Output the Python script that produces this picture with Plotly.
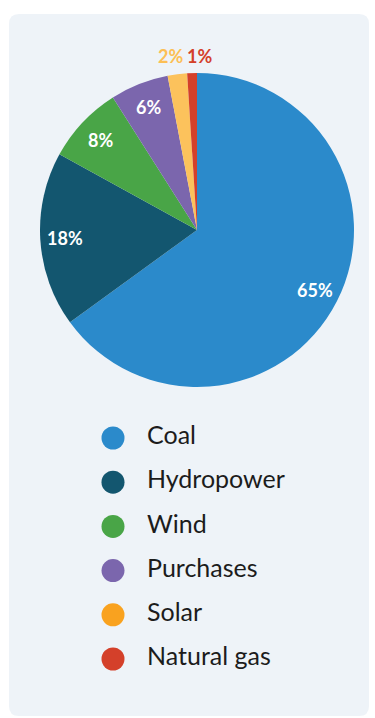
import math
import plotly.graph_objects as go

# ---- data ----
categories = ["Coal", "Hydropower", "Wind", "Purchases", "Solar", "Natural gas"]
values = [65, 18, 8, 6, 2, 1]
slice_colors = ["#2b8acb", "#13566f", "#49a547", "#7b66ad", "#fcc25c", "#d4402a"]
legend_colors = ["#2b8acb", "#13566f", "#49a547", "#7b66ad", "#f9a21f", "#d4402a"]
outside_label_colors = ["#fcbf55", "#d4402a"]

# ---- layout constants (px) ----
W, H = 375, 718
CX, CY, R = 197, 230, 157
LABEL_R = 0.84
LEG_X = 113
LEG_TEXT_X = 147
LEG_Y0, LEG_DY = 438, 44.2
FONT = "Lato, 'Open Sans', sans-serif"

def px_x(x):
    return x / W

def px_y(y):
    return 1 - y / H

fig = go.Figure()

fig.add_trace(go.Pie(
    labels=categories, values=values, sort=False, direction="clockwise", rotation=0,
    marker=dict(colors=slice_colors, line=dict(width=0)),
    textinfo="none",
    domain=dict(x=[px_x(CX - R), px_x(CX + R)], y=[px_y(CY + R), px_y(CY - R)]),
    showlegend=False, hoverinfo="skip",
))

# slice labels placed along each slice's mid angle
total = sum(values)
cum = 0
k = 0
for i, v in enumerate(values):
    ang = (cum + v / 2) / total * 2 * math.pi
    cum += v
    if v >= 5:
        x = CX + LABEL_R * R * math.sin(ang)
        y = CY - LABEL_R * R * math.cos(ang)
        fig.add_annotation(
            x=px_x(x), y=px_y(y), xref="paper", yref="paper",
            text=f"<b>{v}%</b>", showarrow=False, xanchor="center", yanchor="middle",
            font=dict(family=FONT, size=18, color="white"),
        )
    else:
        x = CX + R * math.sin(ang)
        fig.add_annotation(
            x=px_x(x), y=px_y(CY - R), xref="paper", yref="paper",
            text=f"<b>{v}%</b>", showarrow=False,
            xanchor="center", yanchor="bottom",
            xshift=-7 if k == 0 else 7, yshift=4,
            font=dict(family=FONT, size=18, color=outside_label_colors[k]),
        )
        k += 1

# manual legend with big circle markers
fig.add_trace(go.Scatter(
    x=[0] * len(categories), y=categories, mode="markers",
    marker=dict(size=23, color=legend_colors, line=dict(width=0)),
    cliponaxis=False, xaxis="x", yaxis="y", showlegend=False, hoverinfo="skip",
))
fig.add_trace(go.Scatter(
    x=[LEG_TEXT_X - LEG_X] * len(categories), y=categories, mode="text",
    text=categories, textposition="middle right", cliponaxis=False,
    textfont=dict(family=FONT, size=25, color="#1c1c1c"),
    xaxis="x", yaxis="y", showlegend=False, hoverinfo="skip",
))

n = len(categories)
y_top = LEG_Y0 - LEG_DY / 2
y_bot = y_top + n * LEG_DY

# rounded card
x0, y0, x1, y1, rr = px_x(9), px_y(14), px_x(369), px_y(716), 10
rx, ry = rr / W, rr / H
path = (f"M {x0+rx},{y0} L {x1-rx},{y0} Q {x1},{y0} {x1},{y0-ry} "
        f"L {x1},{y1+ry} Q {x1},{y1} {x1-rx},{y1} L {x0+rx},{y1} Q {x0},{y1} {x0},{y1+ry} "
        f"L {x0},{y0-ry} Q {x0},{y0} {x0+rx},{y0} Z")

fig.update_layout(
    width=W, height=H, margin=dict(l=0, r=0, t=0, b=0),
    paper_bgcolor="white", plot_bgcolor="rgba(0,0,0,0)",
    xaxis=dict(domain=[px_x(LEG_X), 1], range=[0, W - LEG_X], visible=False, fixedrange=True),
    yaxis=dict(domain=[px_y(y_bot), px_y(y_top)], type="category", categoryorder="array",
               categoryarray=categories, range=[n - 0.5, -0.5], visible=False, fixedrange=True),
    shapes=[dict(type="path", path=path, xref="paper", yref="paper",
                 fillcolor="#eef3f8", line=dict(width=0), layer="below")],
    showlegend=False,
)

fig.write_html(
    "out.html",
    config={"displayModeBar": False, "staticPlot": True},
    post_script="document.body.style.margin='0';document.body.style.padding='0';document.body.style.overflow='hidden';",
)
